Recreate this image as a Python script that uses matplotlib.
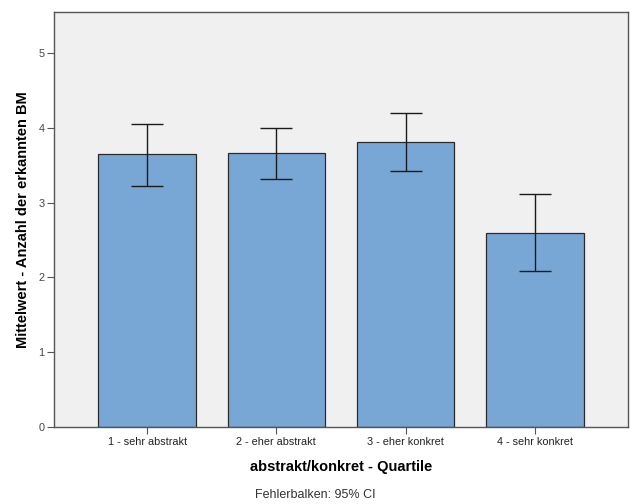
# SPSS-style bar chart of means with 95% CI error bars

import matplotlib
matplotlib.use("Agg")
import matplotlib.pyplot as plt
import numpy as np

plt.rcParams["font.family"] = ["Liberation Sans", "DejaVu Sans"]

# Data
categories = ["1 - sehr abstrakt", "2 - eher abstrakt", "3 - eher konkret", "4 - sehr konkret"]
means      = [3.645, 3.667, 3.815, 2.598]
ci_low     = [3.226, 3.316, 3.427, 2.086]
ci_high    = [4.050, 4.000, 4.198, 3.111]

BAR_COLOR = "#79a7d5"
BG_COLOR  = "#f0f0f0"
SPINE_COL = "#555555"

x = np.arange(len(categories))
yerr = np.array([[m - lo for m, lo in zip(means, ci_low)],
                 [hi - m for m, hi in zip(means, ci_high)]])

fig = plt.figure(figsize=(6.32, 5.04), dpi=100)
ax = fig.add_axes([54 / 632, 1 - 427 / 504, 574 / 632, 415 / 504])
ax.set_facecolor(BG_COLOR)

ax.bar(x, means, width=0.755, color=BAR_COLOR, edgecolor="#2b2b2b", linewidth=0.9, zorder=2)
ax.errorbar(x, means, yerr=yerr, fmt="none", ecolor="#1a1a1a", elinewidth=1.0,
            capsize=11.5, capthick=1.0, zorder=3)

ax.set_xlim(-0.72, 3.72)
ax.set_ylim(0, 5.55)
ax.set_yticks(range(0, 6))
ax.set_xticks(x)
ax.set_xticklabels(categories)

for s in ax.spines.values():
    s.set_color(SPINE_COL)
    s.set_linewidth(1.0)

ax.tick_params(axis="y", direction="out", length=5, color=SPINE_COL,
               labelsize=7.8, labelcolor="#444444", pad=2)
ax.tick_params(axis="x", direction="out", length=5, color=SPINE_COL,
               labelsize=7.8, labelcolor="#222222", pad=2)

ax.set_ylabel("Mittelwert - Anzahl der erkannten BM", fontsize=10.5, fontweight="bold")
ax.yaxis.set_label_coords(-24 / 574, 0.5)
ax.set_xlabel("abstrakt/konkret - Quartile", fontsize=10.5, fontweight="bold")
ax.xaxis.set_label_coords(0.5, -33 / 415)

fig.text(315 / 632, 1 - 495 / 504, "Fehlerbalken: 95% CI", ha="center", va="center",
         fontsize=9, color="#333333")

fig.savefig("out.png", dpi=100)
